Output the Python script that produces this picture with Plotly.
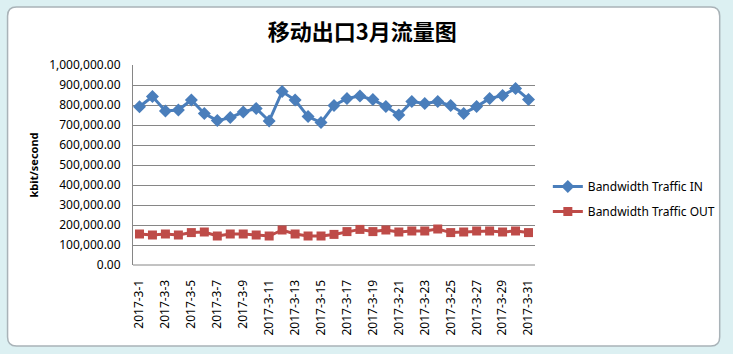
import plotly.graph_objects as go

days = [f"2017-3-{d}" for d in range(1, 32)]
traffic_in = [791000, 842000, 770000, 775000, 825000, 757000, 722000, 737000, 765000, 783000,
              720000, 867000, 825000, 742000, 712000, 798000, 833000, 845000, 827000, 792000,
              750000, 817000, 808000, 817000, 797000, 758000, 792000, 833000, 847000, 883000,
              828000]
traffic_out = [155000, 150000, 155000, 150000, 162000, 165000, 145000, 155000, 155000, 150000,
               145000, 175000, 155000, 145000, 145000, 153000, 167000, 178000, 167000, 175000,
               165000, 170000, 170000, 180000, 162000, 165000, 170000, 170000, 165000, 170000,
               162000]

title_text = "移动出口3月流量图"
y_title = "kbit/second"
name_in = "Bandwidth Traffic IN"
name_out = "Bandwidth Traffic OUT"

W, H = 733, 354
L, R, T, B = 133, 540, 65, 265

def px(x):
    return (x - L) / (R - L)

def py(y):
    return (B - y) / (B - T)

fig = go.Figure()
fig.add_trace(go.Scatter(
    x=days, y=traffic_in, name=name_in, mode="lines+markers",
    line=dict(color="#4a7ebb", width=3),
    marker=dict(symbol="diamond", size=10, color="#4a7ebb"),
    legendgroup="a"))
fig.add_trace(go.Scatter(
    x=days, y=traffic_out, name=name_out, mode="lines+markers",
    line=dict(color="#be4b48", width=3),
    marker=dict(symbol="square", size=9, color="#be4b48"),
    legendgroup="b"))

# chart frame (rounded rectangle)
x0, x1, y0, y1 = 6, 727, 7, 346
r = 9
def P(x, y):
    return f"{px(x):.5f},{py(y):.5f}"
path = (f"M {P(x0 + r, y0)} L {P(x1 - r, y0)} Q {P(x1, y0)} {P(x1, y0 + r)} "
        f"L {P(x1, y1 - r)} Q {P(x1, y1)} {P(x1 - r, y1)} L {P(x0 + r, y1)} "
        f"Q {P(x0, y1)} {P(x0, y1 - r)} L {P(x0, y0 + r)} Q {P(x0, y0)} {P(x0 + r, y0)} Z")

shapes = [dict(type="path", xref="paper", yref="paper", path=path,
               fillcolor="white", line=dict(color="#a9b3b8", width=1.5), layer="below")]

fig.update_layout(
    width=W, height=H,
    margin=dict(l=L, r=W - R, t=T, b=H - B),
    paper_bgcolor="#dcf0f2",
    plot_bgcolor="rgba(0,0,0,0)",
    font=dict(family="Noto Sans", size=12, color="#000000"),
    title=dict(text=f"<b>{title_text}</b>", x=px(365), xref="paper", xanchor="center",
               y=1 - 32 / H, yanchor="middle",
               font=dict(family="Noto Sans CJK SC", size=22, color="#000000")),
    showlegend=True,
    legend=dict(x=px(553), y=py(199), xanchor="left", yanchor="middle",
                bgcolor="rgba(0,0,0,0)", font=dict(size=12, family="Noto Sans"),
                tracegroupgap=6, traceorder="grouped"),
    shapes=shapes,
    xaxis=dict(type="category", range=[-0.5, 30.5], tickmode="linear", tick0=0, dtick=2,
               tickangle=-90, showgrid=False, showline=False, zeroline=False,
               ticks="outside", ticklen=9, tickcolor="rgba(0,0,0,0)",
               tickfont=dict(size=12, family="Noto Sans")),
    yaxis=dict(range=[0, 1000000], dtick=100000, tickformat=",.2f",
               showgrid=True, gridcolor="#868686", gridwidth=1,
               showline=True, linecolor="#868686", linewidth=1, zeroline=False,
               ticks="outside", ticklen=9, tickcolor="rgba(0,0,0,0)",
               tickfont=dict(size=12, family="Noto Sans"),
               title=dict(text=f"<b>{y_title}</b>", font=dict(size=11, family="Noto Sans"),
                          standoff=8)),
    hovermode=False,
)

# bottom axis line
fig.add_shape(type="line", xref="paper", yref="paper", x0=0, x1=1, y0=0, y1=0,
              line=dict(color="#868686", width=1))

fig.write_html("out.html")
